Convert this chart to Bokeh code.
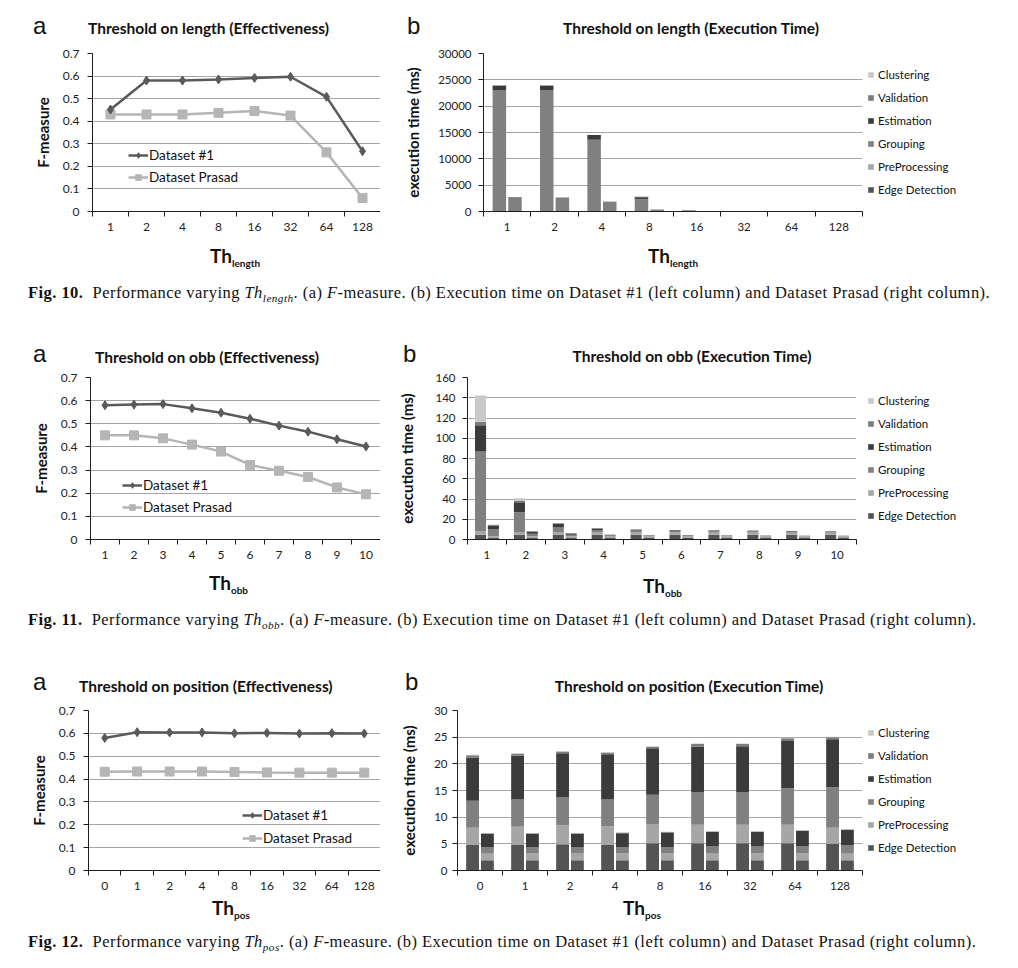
from bokeh.plotting import figure
from bokeh.models import (Legend, LegendItem, FixedTicker, Div,
                          ColumnDataSource, Range1d)
from bokeh.layouts import column, row
from bokeh.embed import file_html
from bokeh.resources import INLINE

# ---------------- data ----------------
len_cats = ["1", "2", "4", "8", "16", "32", "64", "128"]
len_f_d1 = [0.452, 0.580, 0.580, 0.585, 0.592, 0.597, 0.508, 0.267]
len_f_pr = [0.430, 0.430, 0.430, 0.437, 0.445, 0.425, 0.262, 0.060]

obb_cats = ["1", "2", "3", "4", "5", "6", "7", "8", "9", "10"]
obb_f_d1 = [0.580, 0.583, 0.585, 0.567, 0.548, 0.522, 0.492, 0.466, 0.433, 0.402]
obb_f_pr = [0.450, 0.450, 0.437, 0.410, 0.380, 0.322, 0.297, 0.270, 0.225, 0.195]

pos_cats = ["0", "1", "2", "4", "8", "16", "32", "64", "128"]
pos_f_d1 = [0.580, 0.605, 0.604, 0.604, 0.600, 0.602, 0.599, 0.601, 0.599]
pos_f_pr = [0.432, 0.433, 0.433, 0.433, 0.431, 0.429, 0.428, 0.428, 0.428]

stages = ["Edge Detection", "PreProcessing", "Grouping", "Estimation", "Validation", "Clustering"]
stage_colors = ["#545454", "#a6a6a6", "#808080", "#3b3b3b", "#7c7c7c", "#c9c9c9"]

# execution time, threshold on length (ms)
len_d1_edge = [5, 5, 5, 5, 5, 5, 5, 5]
len_d1_prep = [3, 3, 3, 3, 3, 3, 3, 3]
len_d1_group = [23050, 23050, 13600, 2300, 200, 30, 10, 5]
len_d1_est = [850, 850, 900, 380, 40, 10, 5, 3]
len_d1_valid = [30, 30, 25, 100, 8, 3, 2, 2]
len_d1_clust = [20, 20, 15, 150, 5, 2, 1, 1]
len_pr_edge = [2, 2, 2, 2, 2, 2, 2, 2]
len_pr_prep = [1.3, 1.3, 1.3, 1.3, 1.3, 1.3, 1.3, 1.3]
len_pr_group = [2600, 2550, 1780, 360, 40, 5, 2, 1]
len_pr_est = [80, 80, 55, 25, 8, 3, 2, 1]
len_pr_valid = [3, 3, 3, 3, 2, 1, 1, 1]
len_pr_clust = [2, 2, 2, 2, 1, 1, 1, 1]

# execution time, threshold on obb (ms)
obb_d1_edge = [4.6, 4.6, 4.6, 4.6, 4.6, 4.6, 4.6, 4.6, 4.6, 4.6]
obb_d1_prep = [3.3, 2.3, 2.3, 2.2, 2.2, 2.2, 2.2, 2.2, 2.1, 2.1]
obb_d1_group = [79.0, 20.0, 5.0, 2.5, 2.0, 1.7, 1.5, 1.4, 1.2, 1.1]
obb_d1_est = [26.0, 10.0, 3.8, 1.5, 1.0, 0.7, 0.6, 0.5, 0.4, 0.3]
obb_d1_valid = [3.3, 1.6, 0.4, 0.3, 0.2, 0.2, 0.2, 0.2, 0.2, 0.2]
obb_d1_clust = [26.0, 2.3, 0.3, 0.1, 0.1, 0.1, 0.1, 0.1, 0.1, 0.1]
obb_pr_edge = [2.0, 2.0, 2.0, 2.0, 2.0, 2.0, 2.0, 2.0, 2.0, 2.0]
obb_pr_prep = [1.3, 1.2, 1.2, 1.1, 1.1, 1.1, 1.1, 1.1, 1.0, 1.0]
obb_pr_group = [7.0, 2.5, 1.5, 1.0, 0.8, 0.7, 0.6, 0.6, 0.5, 0.5]
obb_pr_est = [3.5, 2.2, 1.2, 0.6, 0.4, 0.3, 0.3, 0.2, 0.2, 0.2]
obb_pr_valid = [0.5, 0.3, 0.2, 0.1, 0.1, 0.1, 0.1, 0.1, 0.1, 0.1]
obb_pr_clust = [0.5, 0.2, 0.1, 0.1, 0.1, 0.1, 0.1, 0.1, 0.1, 0.1]

# execution time, threshold on position (ms)
pos_d1_edge = [4.8, 4.8, 4.9, 4.8, 5.1, 5.1, 5.1, 5.1, 5.0]
pos_d1_prep = [3.2, 3.4, 3.6, 3.5, 3.6, 3.5, 3.5, 3.5, 3.0]
pos_d1_group = [5.1, 5.1, 5.2, 5.0, 5.5, 6.1, 6.1, 6.8, 7.6]
pos_d1_est = [8.1, 8.2, 8.3, 8.5, 8.7, 8.5, 8.6, 8.9, 9.0]
pos_d1_valid = [0.4, 0.4, 0.3, 0.3, 0.3, 0.5, 0.4, 0.5, 0.4]
pos_d1_clust = [0.1, 0.1, 0.1, 0.1, 0.1, 0.1, 0.1, 0.1, 0.1]
pos_pr_edge = [1.9, 1.9, 1.9, 1.9, 1.9, 1.9, 1.9, 1.9, 1.9]
pos_pr_prep = [1.4, 1.4, 1.4, 1.4, 1.4, 1.4, 1.4, 1.4, 1.4]
pos_pr_group = [1.1, 1.1, 1.1, 1.1, 1.1, 1.2, 1.2, 1.3, 1.5]
pos_pr_est = [2.5, 2.5, 2.5, 2.6, 2.7, 2.7, 2.7, 2.8, 2.8]
pos_pr_valid = [0.1, 0.1, 0.1, 0.1, 0.1, 0.1, 0.1, 0.1, 0.1]
pos_pr_clust = [0.05, 0.05, 0.05, 0.05, 0.05, 0.05, 0.05, 0.05, 0.05]

f_ticks = [0, 0.1, 0.2, 0.3, 0.4, 0.5, 0.6, 0.7]
len_t_ticks = [0, 5000, 10000, 15000, 20000, 25000, 30000]
obb_t_ticks = [0, 20, 40, 60, 80, 100, 120, 140, 160]
pos_t_ticks = [0, 5, 10, 15, 20, 25, 30]

# ---------------- styling helpers ----------------
FONT = "Lato"
AXIS_COL = "#1e1e1e"
C_D1 = "#5a5a5a"
C_PR = "#b5b5b5"
ASC = {"Lato": 0.887, "Liberation Sans": 0.847}
TITLE_FS = 15.5


def span(text, left, baseline, font, size, weight="bold", center=False):
    top = baseline - ASC[font] * size
    tr = "transform:translateX(-50%);" if center else ""
    return ('<span style="position:absolute;left:%spx;top:%.1fpx;font-family:\'%s\';'
            'font-size:%spx;line-height:1;font-weight:%s;white-space:nowrap;color:#111;%s">%s</span>'
            % (left, top, font, size, weight, tr, text))


def box_div(W, H, spans):
    html = '<div style="position:relative;width:%dpx;height:%dpx;">%s</div>' % (W, H, "".join(spans))
    return Div(text=html, width=W, height=H, margin=0)


def header(W, H, letter, lx, lb, title, tx, tb, center):
    return box_div(W, H, [span(letter, lx, lb, "Liberation Sans", 24, weight="normal"),
                          span(title, tx, tb, FONT, TITLE_FS, center=center)])


def footer(W, H, sub, x, b):
    t = 'Th<span style="font-size:10px;position:relative;top:4px;">%s</span>' % sub
    return box_div(W, H, [span(t, x, b, FONT, 19)])


def base_fig(cats, ymax, yticks, FW, FH, bl, br, bt, bb, tick_fs, ylab,
             ystand, ylabstand, xstand):
    n = len(cats)
    p = figure(frame_width=FW, frame_height=FH, x_range=Range1d(0, n), y_range=Range1d(0, ymax),
               output_backend="svg", toolbar_location=None,
               min_border_left=bl, min_border_right=br,
               min_border_top=bt, min_border_bottom=bb)
    p.outline_line_color = None
    p.background_fill_color = "white"
    p.border_fill_color = "white"
    p.xgrid.visible = False
    p.ygrid.ticker = FixedTicker(ticks=yticks)
    p.ygrid.grid_line_color = "#a5a5a5"
    p.ygrid.grid_line_width = 1

    ya = p.yaxis[0]
    ya.ticker = FixedTicker(ticks=yticks)
    ya.major_label_overrides = {0: "0"}
    ya.axis_line_color = AXIS_COL
    ya.major_tick_line_color = AXIS_COL
    ya.major_tick_out = 5
    ya.major_tick_in = 0
    ya.minor_tick_line_color = None
    ya.major_label_text_font = FONT
    ya.major_label_text_font_size = tick_fs
    ya.major_label_text_color = "#222222"
    ya.major_label_standoff = ystand
    ya.axis_label = ylab
    ya.axis_label_text_font = FONT
    ya.axis_label_text_font_size = "15px"
    ya.axis_label_text_font_style = "bold"
    ya.axis_label_text_color = "#111111"
    ya.axis_label_standoff = ylabstand

    xa = p.xaxis[0]
    xa.ticker = FixedTicker(ticks=[i + 0.5 for i in range(n)],
                            minor_ticks=list(range(n + 1)))
    xa.major_label_overrides = {i + 0.5: c for i, c in enumerate(cats)}
    xa.axis_line_color = AXIS_COL
    xa.major_tick_line_color = None
    xa.major_tick_out = 5
    xa.major_tick_in = 0
    xa.minor_tick_line_color = AXIS_COL
    xa.minor_tick_out = 5
    xa.minor_tick_in = 0
    xa.major_label_text_font = FONT
    xa.major_label_text_font_size = tick_fs
    xa.major_label_text_color = "#222222"
    xa.major_label_standoff = xstand
    return p


def line_chart(cats, d1, pr, FW, FH, bl, bt, bb, leg_xy, leg_sp):
    p = base_fig(cats, 0.7, f_ticks, FW, FH, bl, 0, bt, bb, "12px", "F-measure",
                 8, 8, 6)
    xs = [i + 0.5 for i in range(len(cats))]
    src = ColumnDataSource(dict(x=xs, d1=d1, pr=pr))
    l2 = p.line("x", "pr", source=src, line_color=C_PR, line_width=2.5)
    m2 = p.scatter("x", "pr", source=src, marker="square", size=9,
                   fill_color=C_PR, line_color=C_PR)
    l1 = p.line("x", "d1", source=src, line_color=C_D1, line_width=2.5)
    m1 = p.scatter("x", "d1", source=src, marker="diamond", size=9,
                   fill_color=C_D1, line_color=C_D1)
    leg = Legend(items=[LegendItem(label="Dataset #1", renderers=[l1, m1]),
                        LegendItem(label="Dataset Prasad", renderers=[l2, m2])],
                 location=leg_xy, padding=0, margin=0, spacing=leg_sp,
                 glyph_width=20, glyph_height=14, label_height=14, label_standoff=1,
                 label_text_font=FONT, label_text_font_size="13.5px",
                 label_text_color="#111111",
                 background_fill_alpha=0, border_line_color=None)
    p.add_layout(leg)
    return p


def bar_chart(cats, d1_parts, pr_parts, ymax, yticks, FW, FH, bl, br, bt, bb,
              leg_margin, ystand, ylabstand):
    p = base_fig(cats, ymax, yticks, FW, FH, bl, br, bt, bb, "11.5px",
                 "execution time (ms)", ystand, ylabstand, 6)
    n = len(cats)
    keys = ["edge", "prep", "group", "est", "valid", "clust"]
    data = dict(x1=[i + 0.5 - 0.165 for i in range(n)],
                x2=[i + 0.5 + 0.165 for i in range(n)])
    for k, a, b in zip(keys, d1_parts, pr_parts):
        data["d1_" + k] = a
        data["pr_" + k] = b
    src = ColumnDataSource(data)
    r1 = p.vbar_stack(["d1_" + k for k in keys], x="x1", width=0.285, source=src,
                      fill_color=stage_colors, line_color=None)
    p.vbar_stack(["pr_" + k for k in keys], x="x2", width=0.285, source=src,
                 fill_color=stage_colors, line_color=None)
    items = [LegendItem(label=stages[i], renderers=[r1[i]]) for i in range(5, -1, -1)]
    leg = Legend(items=items, location="center_left", padding=0, margin=leg_margin,
                 spacing=8, glyph_width=7, glyph_height=7, label_height=15,
                 label_standoff=4, label_text_font=FONT, label_text_font_size="11.5px",
                 label_text_color="#111111",
                 background_fill_alpha=0, border_line_color=None)
    p.add_layout(leg, "right")
    return p


def caption(num, sub, h, pad_top):
    html = ('<div style="padding-left:20px;padding-top:%dpx;font-family:\'Liberation Serif\';'
            'font-size:16.5px;letter-spacing:0.45px;line-height:18px;color:#111;white-space:nowrap;">'
            '<b>Fig. %s.</b>&nbsp; Performance varying <i>Th<sub style="font-size:68%%">%s</sub></i>. '
            '(a) <i>F</i>-measure. (b) Execution time on Dataset #1 (left column) and '
            'Dataset Prasad (right column).</div>') % (pad_top, num, sub)
    return Div(text=html, width=1002, height=h, margin=0)


# ---------------- row 1: length ----------------
a1 = line_chart(len_cats, len_f_d1, len_f_pr, 288, 158, 84, 10, 29, (36, 26), 6)
b1 = bar_chart(len_cats,
               [len_d1_edge, len_d1_prep, len_d1_group, len_d1_est, len_d1_valid, len_d1_clust],
               [len_pr_edge, len_pr_prep, len_pr_group, len_pr_est, len_pr_valid, len_pr_clust],
               30000, len_t_ticks, 379, 158, 103, 148, 10, 29, 5, 7, 13)
col_a1 = column(header(372, 35, "a", 25, 26, "Threshold on length (Effectiveness)", 80, 27, False),
                a1, footer(372, 30, "length", 202, 23), spacing=0)
col_b1 = column(header(630, 35, "b", 27, 26, "Threshold on length (Execution Time)", 311, 27, True),
                b1, footer(630, 30, "length", 268, 23), spacing=0)

# ---------------- row 2: obb ----------------
a2 = line_chart(obb_cats, obb_f_d1, obb_f_pr, 290, 162, 82, 10, 30, (32, 24), 6)
b2 = bar_chart(obb_cats,
               [obb_d1_edge, obb_d1_prep, obb_d1_group, obb_d1_est, obb_d1_valid, obb_d1_clust],
               [obb_pr_edge, obb_pr_prep, obb_pr_group, obb_pr_est, obb_pr_valid, obb_pr_clust],
               160, obb_t_ticks, 389, 162, 87, 154, 10, 30, 11, 7, 16)
col_a2 = column(header(372, 49, "a", 25, 44, "Threshold on obb (Effectiveness)", 87, 46, False),
                a2, footer(372, 31, "obb", 201, 21), spacing=0)
col_b2 = column(header(630, 49, "b", 23, 44, "Threshold on obb (Execution Time)", 312, 45, True),
                b2, footer(630, 31, "obb", 263, 24), spacing=0)

# ---------------- row 3: position ----------------
a3 = line_chart(pos_cats, pos_f_d1, pos_f_pr, 292, 160, 80, 10, 27, (154, 24), 7)
b3 = bar_chart(pos_cats,
               [pos_d1_edge, pos_d1_prep, pos_d1_group, pos_d1_est, pos_d1_valid, pos_d1_clust],
               [pos_pr_edge, pos_pr_prep, pos_pr_group, pos_pr_est, pos_pr_valid, pos_pr_clust],
               30, pos_t_ticks, 405, 160, 77, 148, 10, 27, 5, 5, 13)
col_a3 = column(header(372, 50, "a", 25, 40, "Threshold on position (Effectiveness)", 71, 43, False),
                a3, footer(372, 31, "pos", 204, 18), spacing=0)
col_b3 = column(header(630, 50, "b", 25, 40, "Threshold on position (Execution Time)", 309, 43, True),
                b3, footer(630, 31, "pos", 243, 18), spacing=0)

layout = column(row(col_a1, col_b1, spacing=0), caption("10", "length", 48, 14),
                row(col_a2, col_b2, spacing=0), caption("11", "obb", 50, 11),
                row(col_a3, col_b3, spacing=0), caption("12", "pos", 32, 5),
                spacing=0, margin=(8, 0, 0, 8))

open("out.html", "w").write(file_html(layout, INLINE))
